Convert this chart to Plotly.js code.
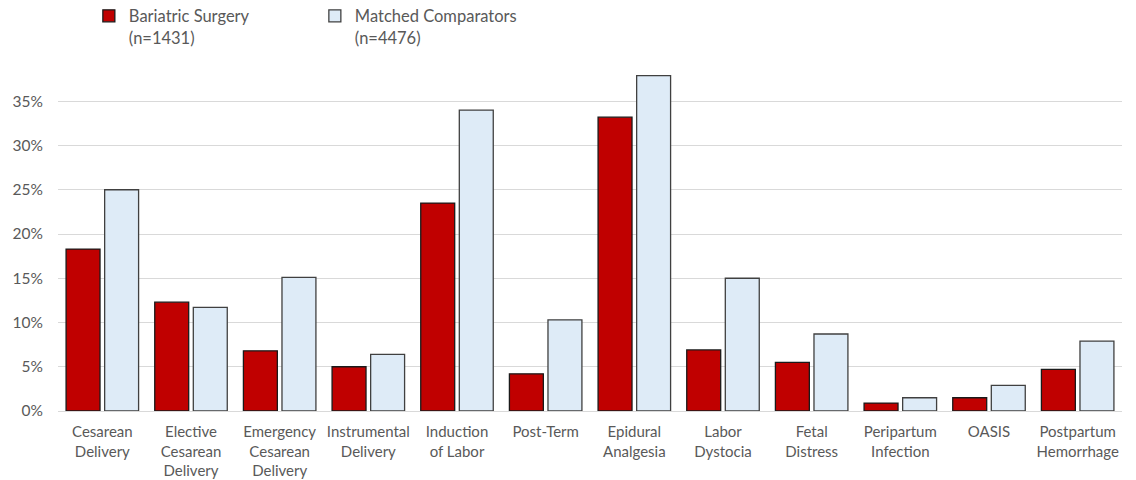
<!DOCTYPE html>
<html>
<head>
<meta charset="utf-8">
<script src="https://cdn.plot.ly/plotly-3.0.1.min.js"></script>
<style>html,body{margin:0;padding:0;background:#fff;}#chart{width:1136px;height:480px;}</style>
</head>
<body>
<div id="chart"></div>
<script>
const categories = [
  "Cesarean<br>Delivery",
  "Elective<br>Cesarean<br>Delivery",
  "Emergency<br>Cesarean<br>Delivery",
  "Instrumental<br>Delivery",
  "Induction<br>of Labor",
  "Post-Term",
  "Epidural<br>Analgesia",
  "Labor<br>Dystocia",
  "Fetal<br>Distress",
  "Peripartum<br>Infection",
  "OASIS",
  "Postpartum<br>Hemorrhage"
];
const bariatric = [0.183, 0.123, 0.068, 0.050, 0.235, 0.042, 0.332, 0.069, 0.055, 0.009, 0.015, 0.047];
const comparators = [0.250, 0.117, 0.151, 0.064, 0.340, 0.103, 0.379, 0.150, 0.087, 0.015, 0.029, 0.079];
const seriesNames = ["Bariatric Surgery<br>(n=1431)", "Matched Comparators<br>(n=4476)"];
const yTicks = [0, 0.05, 0.10, 0.15, 0.20, 0.25, 0.30, 0.35];
const yTickText = ["0%", "5%", "10%", "15%", "20%", "25%", "30%", "35%"];

const fontFam = "Lato, 'Open Sans', sans-serif";
const traces = [
  {type: "bar", name: seriesNames[0], x: categories, y: bariatric,
   marker: {color: "#C00000", line: {color: "#1a1a1a", width: 1.3}}},
  {type: "bar", name: seriesNames[1], x: categories, y: comparators,
   marker: {color: "#DEEBF7", line: {color: "#404040", width: 1.3}}}
];
const layout = {
  width: 1136, height: 480,
  margin: {l: 58, r: 14, t: 57, b: 69, autoexpand: false},
  paper_bgcolor: "#fff", plot_bgcolor: "#fff",
  barmode: "group", bargap: 0.13, bargroupgap: 0.12,
  font: {family: fontFam, color: "#595959", size: 15},
  showlegend: true,
  legend: {orientation: "h", x: 0.029, xanchor: "left", y: 1.165, yanchor: "top",
           font: {family: fontFam, size: 16.5, color: "#595959"},
           valign: "top", entrywidth: 181, entrywidthmode: "pixels",
           traceorder: "normal", itemwidth: 30},
  xaxis: {type: "category", tickfont: {family: fontFam, size: 15, color: "#595959"},
          showline: true, linecolor: "#D9D9D9", linewidth: 1, ticks: "", showgrid: false,
          ticklabelstandoff: 7, fixedrange: true},
  yaxis: {range: [0, 0.40], tickvals: yTicks, ticktext: yTickText,
          tickfont: {family: fontFam, size: 15.5, color: "#595959"},
          showgrid: true, gridcolor: "#D9D9D9", gridwidth: 1, zeroline: false,
          showline: false, ticks: "", ticklen: 0, ticklabelstandoff: 14, fixedrange: true}
};
Plotly.newPlot("chart", traces, layout, {displayModeBar: false, staticPlot: true});
</script>
</body>
</html>
